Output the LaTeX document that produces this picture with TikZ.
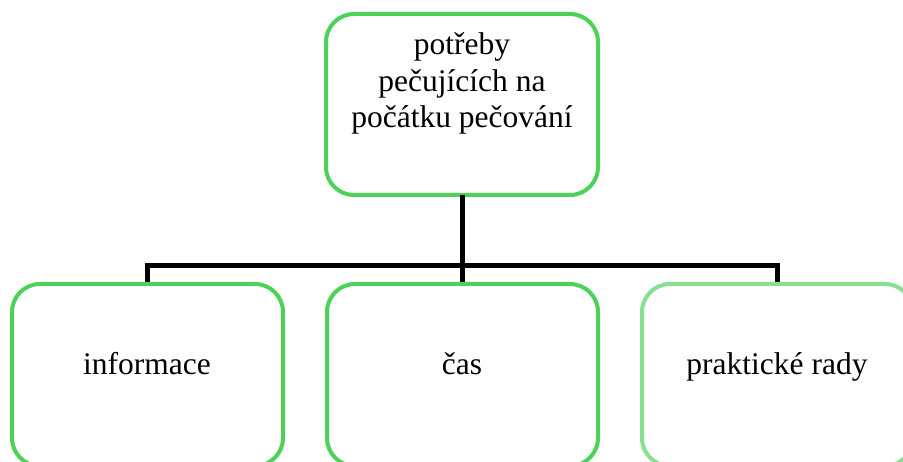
\documentclass[tikz,border=0pt]{standalone}
\usepackage{fontspec}
\setmainfont{Liberation Serif}
\definecolor{boxgreen}{RGB}{76,210,88}
\definecolor{lightgreen}{RGB}{134,224,142}
\begin{document}
\begin{tikzpicture}[x=1pt,y=1pt,
  box/.style={draw=boxgreen,line width=4pt,rounded corners=28pt,fill=white},
  conn/.style={draw=black,line width=5pt},
  lbl/.style={font=\fontsize{31.5}{36}\selectfont,align=center,inner sep=0pt}]
\useasboundingbox (0,0) rectangle (903,-462);
% boxes
\path[box] (326,-14) rectangle (598,-195);
\coordinate (topbot) at (462,-195);
\coordinate (hub) at (462,-266);
\coordinate (hl) at (147,-266);
\coordinate (hr) at (777,-266);
\coordinate (b1top) at (147,-284);
\coordinate (b2top) at (462,-284);
\coordinate (b3top) at (777,-284);
\draw[conn] (topbot) -- (hub);
\draw[conn] (b1top) -- (hl) -- (hr) -- (b3top);
\draw[conn] (hub) -- (b2top);
\path[box] (12,-284) rectangle (283,-466);
\path[box] (327,-284) rectangle (598,-466);
\path[box,draw=lightgreen] (642,-284) rectangle (913,-466);
% texts
\node[lbl,anchor=base] (t0a) at (462,-55) {potřeby};
\node[lbl,anchor=base] (t0b) at (462,-92) {pečujících na};
\node[lbl,anchor=base] (t0c) at (462,-128) {počátku pečování};
\node[lbl,anchor=base] (t1) at (147,-375) {informace};
\node[lbl,anchor=base] (t2) at (462,-375) {čas};
\node[lbl,anchor=base] (t3) at (777,-375) {praktické rady};
\end{tikzpicture}
\end{document}
